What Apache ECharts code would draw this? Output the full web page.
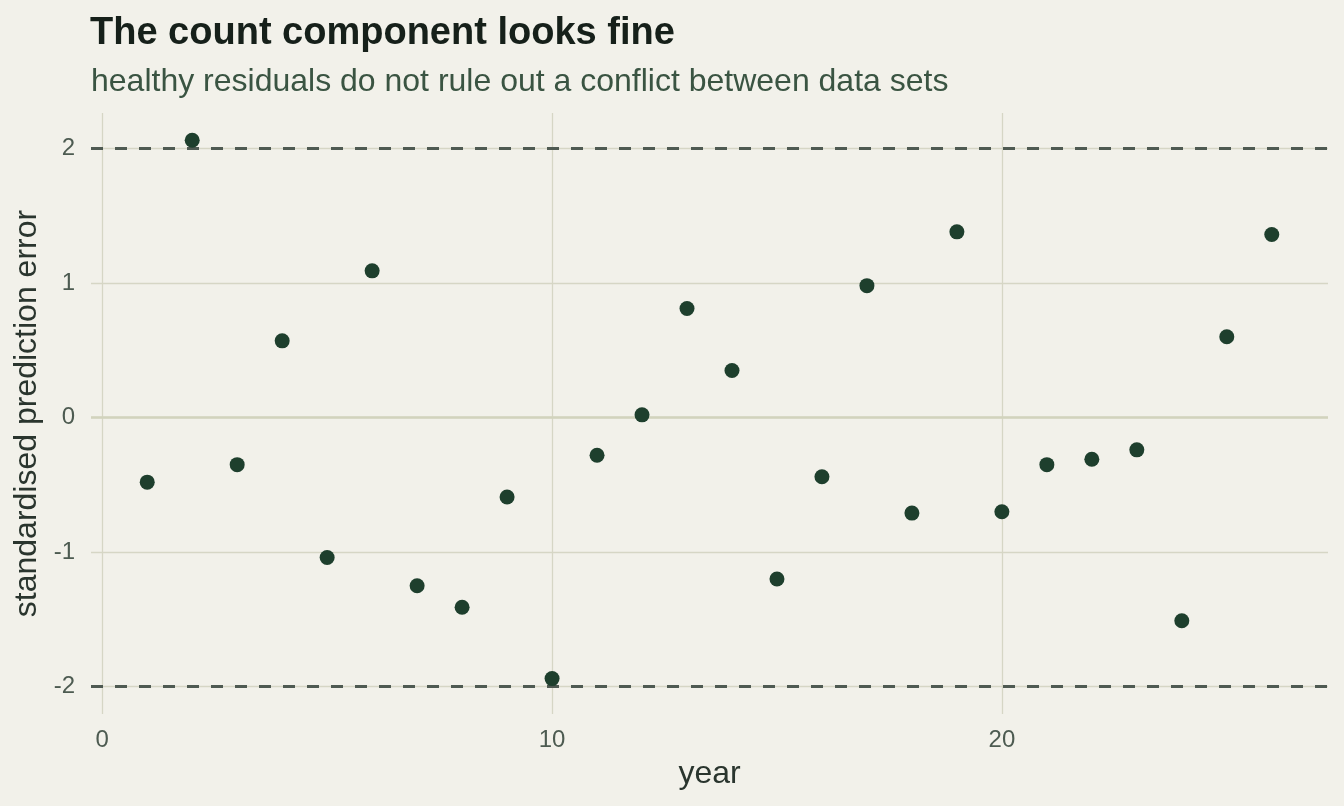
<!DOCTYPE html>
<html>
<head>
<meta charset="utf-8">
<script src="https://cdn.jsdelivr.net/npm/echarts@6/dist/echarts.min.js"></script>
<style>
  html, body { margin: 0; padding: 0; background: #f2f1ea; }
  #MainContent { width: 1344px; height: 806px; }
</style>
</head>
<body>
<div id="MainContent"></div>
<script>
// years and standardised prediction errors
var years = [1, 2, 3, 4, 5, 6, 7, 8, 9, 10, 11, 12, 13, 14, 15, 16, 17, 18, 19, 20, 21, 22, 23, 24, 25, 26];
var errors = [-0.48, 2.06, -0.35, 0.57, -1.04, 1.09, -1.25, -1.41, -0.59, -1.94, -0.28, 0.02, 0.81, 0.35,
    -1.20, -0.44, 0.98, -0.71, 1.38, -0.70, -0.35, -0.31, -0.24, -1.51, 0.60, 1.36];
var xTicks = [0, 10, 20];
var yTicks = [-2, -1, 0, 1, 2];
var bounds = [-2, 2];

function draw() {
    var chart = echarts.init(document.getElementById('MainContent'));

    var points = years.map(function (y, i) {
        return [y, errors[i]];
    });

    var font = 'Liberation Sans, Helvetica, Arial, sans-serif';

    var option = {
        backgroundColor: '#f2f1ea',
        animation: false,
        title: [{
            text: 'The count component looks fine',
            left: 85,
            top: 10,
            textStyle: { fontFamily: font, fontSize: 38, fontWeight: 'bold', color: '#16201a' }
        }, {
            text: 'healthy residuals do not rule out a conflict between data sets',
            left: 86,
            top: 61,
            textStyle: { fontFamily: font, fontSize: 32, fontWeight: 'normal', color: '#3a5442' }
        }],
        grid: { left: 91, right: 16, top: 113, bottom: 92 },
        xAxis: {
            type: 'value',
            min: -0.25,
            max: 27.25,
            name: 'year',
            nameLocation: 'middle',
            nameGap: 44,
            nameTextStyle: { fontFamily: font, fontSize: 32, color: '#2a352e' },
            axisLine: { show: false },
            axisTick: { show: false, customValues: xTicks },
            axisLabel: {
                customValues: xTicks,
                margin: 14,
                fontFamily: font, fontSize: 24, color: '#4d5b51'
            },
            splitLine: { show: true, lineStyle: { color: '#d6d6c5', width: 1.3 } }
        },
        yAxis: {
            type: 'value',
            min: -2.203,
            max: 2.263,
            name: 'standardised prediction error',
            nameLocation: 'middle',
            nameGap: 45,
            nameTextStyle: { fontFamily: font, fontSize: 32, color: '#2a352e' },
            axisLine: { show: false },
            axisTick: { show: false, customValues: yTicks },
            axisLabel: {
                customValues: yTicks,
                margin: 16,
                fontFamily: font, fontSize: 24, color: '#4d5b51'
            },
            splitLine: { show: true, lineStyle: { color: '#d6d6c5', width: 1.3 } }
        },
        series: [{
            type: 'line',
            data: [],
            markLine: {
                silent: true,
                symbol: 'none',
                label: { show: false },
                data: [
                    { yAxis: 0, lineStyle: { color: '#d2d3bd', width: 2.5, type: 'solid' } },
                    { yAxis: bounds[0], lineStyle: { color: '#4f5a52', width: 3, type: [12, 12] } },
                    { yAxis: bounds[1], lineStyle: { color: '#4f5a52', width: 3, type: [12, 12] } }
                ]
            }
        }, {
            type: 'scatter',
            symbolSize: 15,
            itemStyle: { color: '#1e3f2d', opacity: 1 },
            data: points,
            z: 5
        }]
    };

    chart.setOption(option);
}

draw();
</script>
</body>
</html>
